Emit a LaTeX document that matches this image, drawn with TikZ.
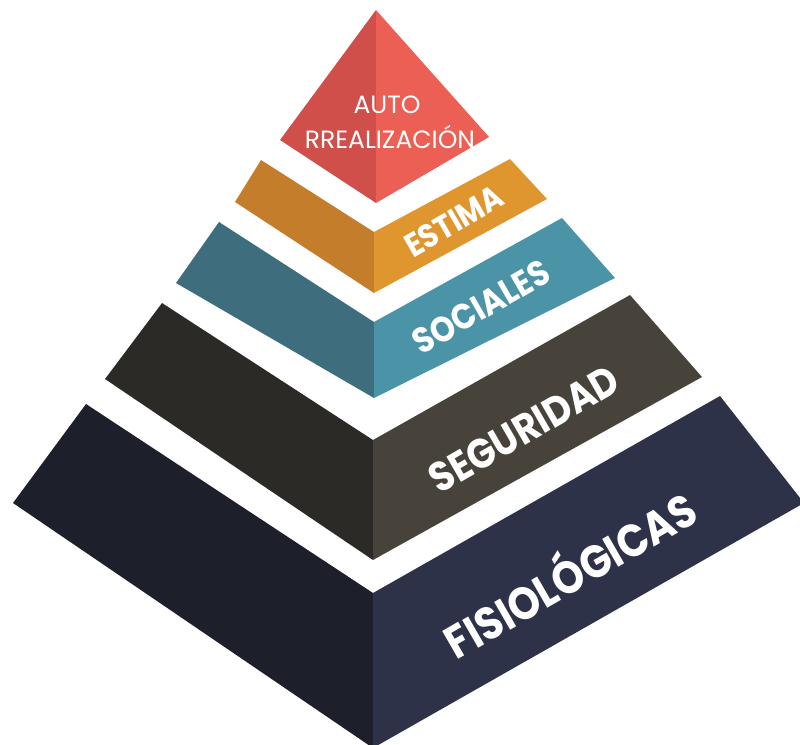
\documentclass[tikz,border=0pt]{standalone}
\usepackage{fontspec}
\setmainfont{Poppins}
\usepackage{graphicx}
\definecolor{redL}{HTML}{D04F4A}
\definecolor{redR}{HTML}{EC5F54}
\definecolor{orL}{HTML}{C47D2A}
\definecolor{orR}{HTML}{E0962E}
\definecolor{teL}{HTML}{3E6E7E}
\definecolor{teR}{HTML}{4B94A8}
\definecolor{seL}{HTML}{2C2A26}
\definecolor{seR}{HTML}{47433A}
\definecolor{fiL}{HTML}{1D1F2A}
\definecolor{fiR}{HTML}{2D3248}
\newcommand{\tallword}[2]{\resizebox{#1}{!}{\scalebox{1}[1.13]{#2}}}
\begin{document}
\begin{tikzpicture}[x=1pt,y=-1pt,
  lbl/.style={text=white, inner sep=0pt, rotate=30, font=\bfseries},
  toplbl/.style={text=white, inner sep=0pt, font=\fontsize{25}{25}\selectfont}]
\useasboundingbox (0,0) rectangle (800,744);
\clip (0,0) rectangle (800,744);
% Autorrealizacion
\fill[redL] (376,10) -- (280,140) -- (376,203) -- cycle;
\fill[redR] (376,10) -- (489,137) -- (376,203) -- cycle;
% Estima
\fill[orL] (261,160) -- (235,202) -- (374,293) -- (374,232) -- cycle;
\fill[orR] (374,232) -- (374,293) -- (547,199) -- (510,159) -- cycle;
% Sociales
\fill[teL] (219,222) -- (176,283) -- (374,398) -- (374,322) -- cycle;
\fill[teR] (374,322) -- (374,398) -- (615,278) -- (562,218) -- cycle;
% Seguridad
\fill[seL] (162,303) -- (105,379) -- (373,560) -- (373,440) -- cycle;
\fill[seR] (373,440) -- (373,560) -- (702,377) -- (630,295) -- cycle;
% Fisiologicas
\fill[fiL] (86,404) -- (13,503) -- (373,748) -- (373,593) -- cycle;
\fill[fiR] (373,593) -- (373,748) -- (804,503) -- (720,396) -- cycle;
% labels
\node[toplbl] (auto) at (387,105) {AUTO};
\node[toplbl] (rreal) at (390,137) {RREALIZACIÓN};
\node[lbl] (estima) at (454,221) {\tallword{108pt}{ESTIMA}};
\node[lbl] (sociales) at (481,307) {\tallword{152pt}{SOCIALES}};
\node[lbl] (seguridad) at (524,429) {\tallword{212pt}{SEGURIDAD}};
\node[lbl] (fisio) at (568,571) {\tallword{282pt}{FISIOLÓGICAS}};
\end{tikzpicture}
\end{document}
